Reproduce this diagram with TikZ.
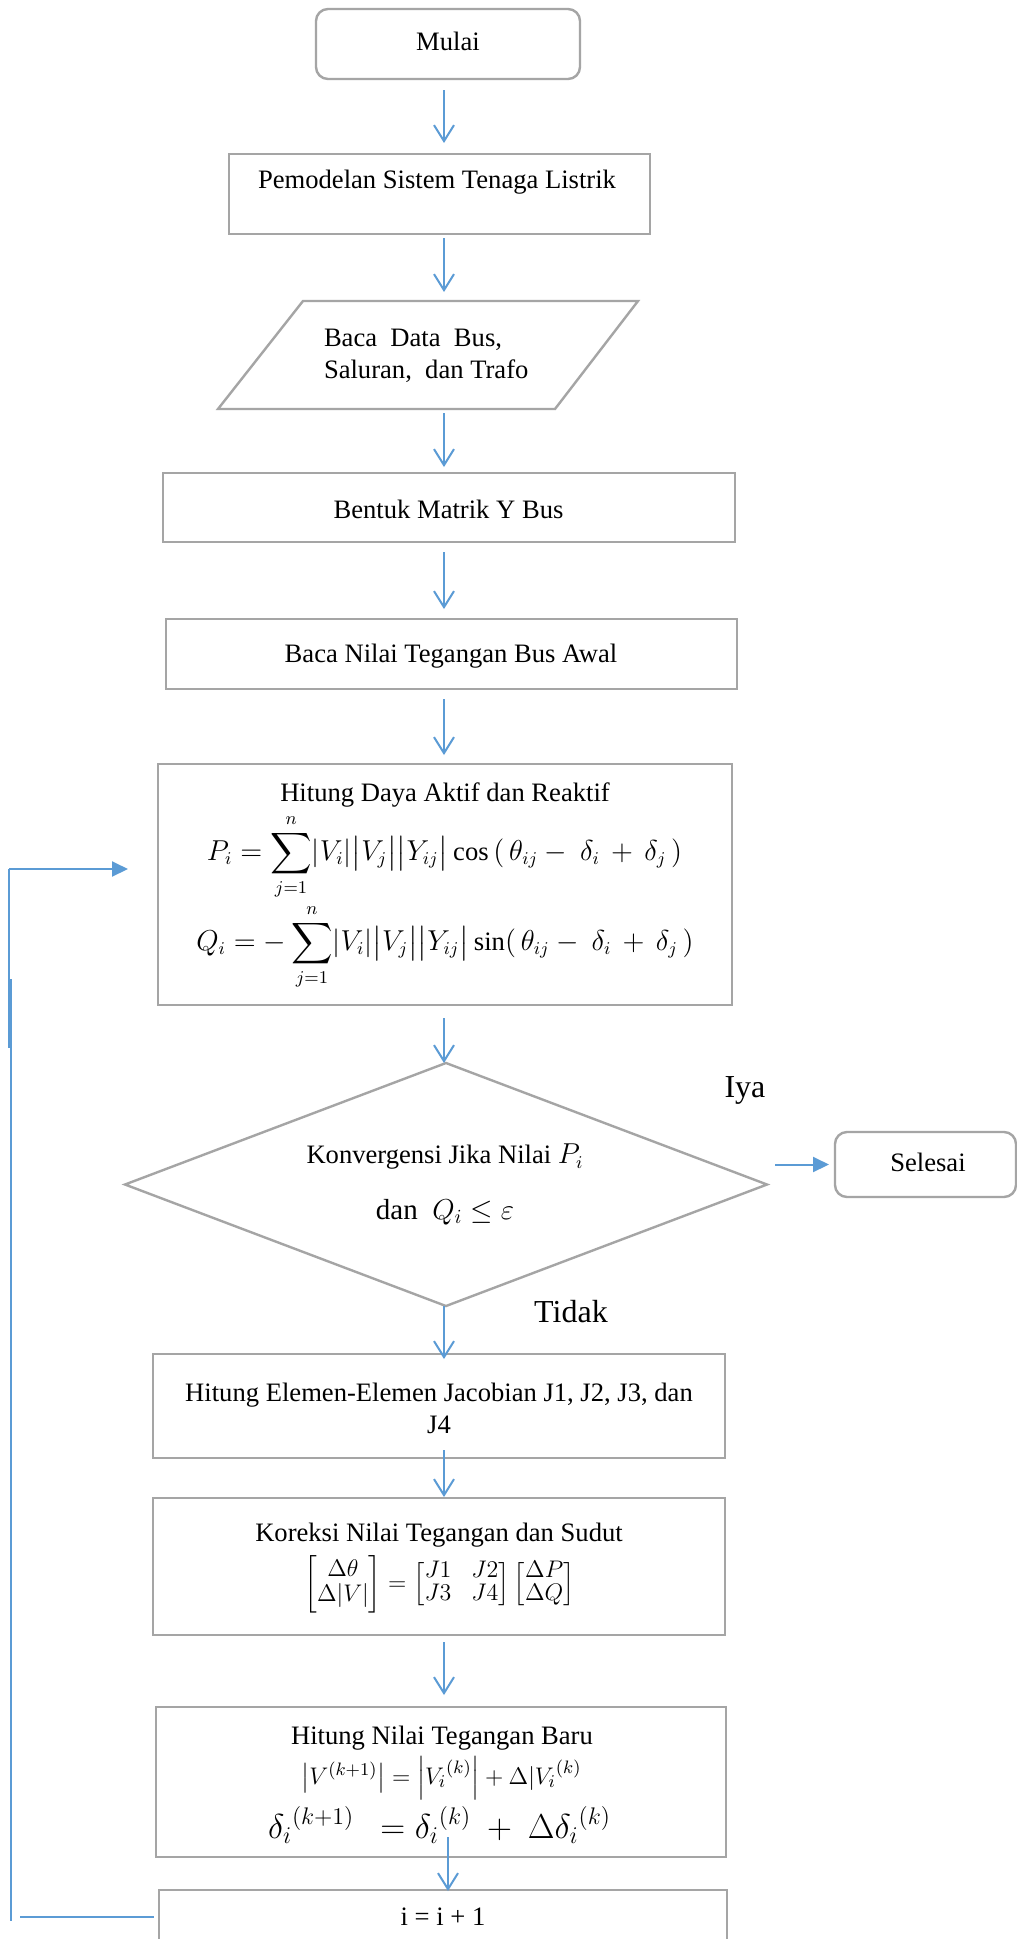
\documentclass[tikz,border=0pt]{standalone}
\usepackage{amsmath}
\usepackage{fontspec}
\setmainfont{Liberation Serif}
\usetikzlibrary{arrows.meta,shapes.geometric}
\definecolor{boxgray}{HTML}{A5A5A5}
\definecolor{flowblue}{HTML}{5B9BD5}
\begin{document}
\begin{tikzpicture}[x=0.5pt,y=-0.5pt,
  every node/.style={font=\fontsize{13.3}{16}\selectfont, inner sep=0pt, outer sep=0pt},
  procbox/.style={draw=boxgray, line width=1.2pt, rectangle, anchor=north west},
  termbox/.style={procbox, rounded corners=6pt},
  txt/.style={align=center},
  flowarr/.style={draw=flowblue, line width=1pt, -{Straight Barb[length=8pt,width=10pt]}},
  looparr/.style={draw=flowblue, line width=1pt, -{Triangle[length=8pt,width=7.5pt]}},
  loopline/.style={draw=flowblue, line width=1pt},
  lbl/.style={font=\fontsize{16}{19}\selectfont}
]
\useasboundingbox (0,0) rectangle (1017,1939);
\fill[white] (0,0) rectangle (1017,1939);
\coordinate (axis) at (444,0);
\coordinate (axisb) at (448,0);

% Mulai
\node[termbox, minimum width=132pt, minimum height=35pt] (mulai) at (316,9) {};
\node[txt] (tmulai) at (448,41) {Mulai};

% Pemodelan
\node[procbox, minimum width=210.5pt, minimum height=40pt] (model) at (229,154) {};
\node[txt] (tmodel) at (437,182) {Pemodelan Sistem Tenaga Listrik};

% Data (parallelogram)
\draw[boxgray, line width=1.2pt] (303,301) -- (638,301) -- (555,409) -- (218,409) -- cycle;
\coordinate (datatop) at (445,301);
\coordinate (databot) at (445,409);
\node[anchor=west, align=left, font=\fontsize{13.3}{16}\selectfont] (tdata) at (324,356) {Baca\ \ Data\ \ Bus,\\Saluran,\ \ dan Trafo};

% Y bus
\node[procbox, minimum width=286pt, minimum height=34.5pt] (ybus) at (163,473) {};
\node[txt] (tybus) at (448.5,509) {Bentuk Matrik Y Bus};

% Tegangan awal
\node[procbox, minimum width=285.5pt, minimum height=35pt] (awal) at (166,619) {};
\node[txt] (tawal) at (451,656) {Baca Nilai Tegangan Bus Awal};

% Daya
\node[procbox, minimum width=287pt, minimum height=120.5pt] (daya) at (158,764) {};
\node[txt] (tdaya) at (445,795) {Hitung Daya Aktif dan Reaktif};
\node[txt] (peq) at (444.5,857) {$P_i = \displaystyle\sum_{j=1}^{n} \lvert V_i\rvert \bigl\lvert V_j\bigr\rvert \bigl\lvert Y_{ij}\bigr\rvert \cos\,(\,\theta_{ij} -\ \delta_i \,+\, \delta_j\,)$};
\node[txt] (qeq) at (445,947) {$Q_i = -\displaystyle\sum_{j=1}^{n} \lvert V_i\rvert \bigl\lvert V_j\bigr\rvert \bigl\lvert Y_{ij}\bigr\rvert \sin(\,\theta_{ij} -\ \delta_i \,+\, \delta_j\,)$};

% Diamond
\node[diamond, draw=boxgray, line width=1.2pt, minimum width=321pt, minimum height=121.5pt] (dia) at (446,1184.5) {};
\node[txt] (tk) at (445,1157) {Konvergensi Jika Nilai $P_i$};
\node[txt, font=\fontsize{14.5}{17}\selectfont] (tq) at (445,1212) {dan\ \ $Q_i \le \varepsilon$};
\node[lbl] (iya) at (745,1090) {Iya};
\node[lbl] (tidak) at (571,1312) {Tidak};

% Selesai
\node[termbox, minimum width=90.5pt, minimum height=32.5pt] (sel) at (835,1132) {};
\node[txt] (tsel) at (928,1162) {Selesai};

% Jacobian
\node[procbox, minimum width=286pt, minimum height=52pt] (jac) at (153,1354) {};
\node[txt] (tjac) at (439,1408) {Hitung Elemen-Elemen Jacobian J1, J2, J3, dan\\J4};

% Koreksi
\node[procbox, minimum width=286pt, minimum height=68.5pt] (kor) at (153,1498) {};
\node[txt] (tkor) at (439,1535) {Koreksi Nilai Tegangan dan Sudut};
\node[txt, font=\fontsize{12.5}{14}\selectfont] (meq) at (439.5,1584) {\renewcommand{\arraystretch}{0.8}$\begin{bmatrix}\Delta\theta\\ \Delta\lvert V\rvert\end{bmatrix} = \begin{bmatrix}J1 & J2\\ J3 & J4\end{bmatrix}\begin{bmatrix}\Delta P\\ \Delta Q\end{bmatrix}$};

% Tegangan baru
\node[procbox, minimum width=285pt, minimum height=75pt] (baru) at (156,1707) {};
\node[txt] (tbaru) at (442,1738) {Hitung Nilai Tegangan Baru};
\node[txt, font=\fontsize{12.5}{15}\selectfont] (veq) at (441.5,1778) {$\bigl\lvert V^{(k+1)}\bigr\rvert = \Bigl\lvert {V_i}^{(k)}\Bigr\rvert + \Delta\lvert {V_i}^{(k)}$};
\node[txt, font=\fontsize{16.5}{19}\selectfont] (deq) at (439.5,1825) {${\delta_i}^{(k+1)}\ \ = {\delta_i}^{(k)}\ +\ \Delta{\delta_i}^{(k)}$};

% i = i + 1
\node[procbox, minimum width=284pt, minimum height=40pt] (inc) at (159,1890) {};
\node[txt] (tinc) at (443,1917) {i = i + 1};

% Flow arrows
\draw[flowarr, shorten <=5.5pt, shorten >=5.5pt] (mulai.south -| axis) -- (model.north -| axis);
\draw[flowarr, shorten <=2pt, shorten >=4.5pt] (model.south -| axis) -- (datatop -| axis);
\draw[flowarr, shorten <=2pt, shorten >=3pt] (databot -| axis) -- (ybus.north -| axis);
\draw[flowarr, shorten <=5pt, shorten >=5pt] (ybus.south -| axis) -- (awal.north -| axis);
\draw[flowarr, shorten <=5pt, shorten >=4.5pt] (awal.south -| axis) -- (daya.north -| axis);
\draw[flowarr, shorten <=6.5pt] (daya.south -| axis) -- (dia.north -| axis);
\draw[flowarr, shorten >=-2.5pt] (dia.south -| axis) -- (jac.north -| axis);
\draw[flowarr, shorten <=-4pt, shorten >=0.5pt] (jac.south -| axis) -- (kor.north -| axis);
\draw[flowarr, shorten <=3.5pt, shorten >=6pt] (kor.south -| axis) -- (baru.north -| axis);
\draw[flowarr, shorten <=-10pt, shorten >=-0.5pt] (baru.south -| axisb) -- (inc.north -| axisb);

% Yes branch
\draw[looparr, shorten <=4pt, shorten >=3pt] (dia.east |- sel.west) -- (sel.west);

% Loop back
\coordinate (lt) at (9,869);
\coordinate (lm) at (9,1048);
\coordinate (lu) at (11,979);
\coordinate (lb) at (11,1921);
\coordinate (lh) at (20,1917);
\draw[looparr, shorten >=15pt] (lt) -- (daya.west |- lt);
\draw[loopline] (lt) -- (lm);
\draw[loopline] (lu) -- (lb);
\draw[loopline, shorten >=2.5pt] (lh) -- (inc.west |- lh);
\end{tikzpicture}
\end{document}
